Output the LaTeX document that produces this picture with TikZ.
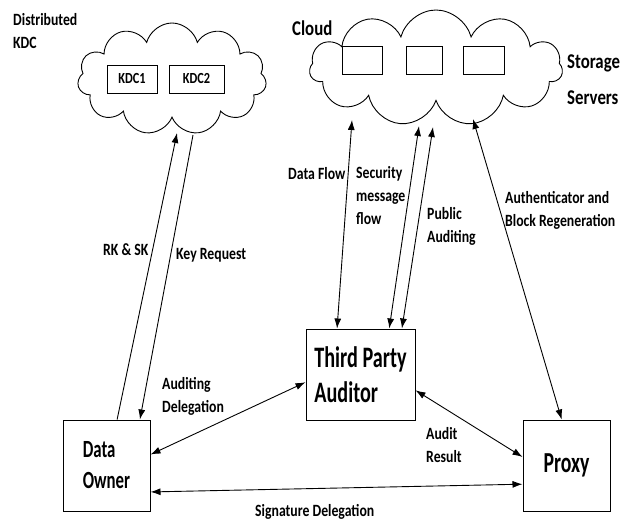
\documentclass[tikz,border=0pt]{standalone}
\usepackage{fontspec}
\setmainfont{Carlito}[FakeStretch=0.8]
\newfontfamily\tallfont{Carlito}[FakeStretch=0.68]
\usetikzlibrary{shapes.symbols,arrows.meta}

\begin{document}
\begin{tikzpicture}[x=1pt,y=-1pt,
      every node/.style={font=\bfseries},
      box/.style={draw,line width=1pt,inner sep=0pt,align=left},
      srvbox/.style={draw,line width=0.9pt,minimum height=28pt,inner sep=0pt},
      puff/.style={cloud,draw,cloud puffs=11,cloud ignores aspect,line width=0.9pt,inner sep=0pt},
      lbl/.style={anchor=north west,inner sep=0pt,align=left,font=\bfseries\fontsize{17.2}{23}\selectfont},
      link/.style={line width=0.9pt,{Latex[length=10pt,width=7pt]}-{Latex[length=10pt,width=7pt]}},
      oneway/.style={line width=0.9pt,-{Latex[length=10pt,width=7pt]}}
    ]
    \useasboundingbox (0,0) rectangle (624,522);

    % clouds and servers
    \node[puff,minimum width=189pt,minimum height=112pt] (kdccloud) at (172,79) {};
    \node[puff,minimum width=253pt,minimum height=116pt] (storecloud) at (436,68) {};
    \node[srvbox,minimum width=50pt,font=\bfseries\fontsize{15.4}{18}\selectfont] (kdc1) at (132,79) {KDC1};
    \node[srvbox,minimum width=55pt,font=\bfseries\fontsize{15.4}{18}\selectfont] (kdc2) at (196.5,79) {KDC2};
    \node[srvbox,minimum width=40pt] (srv1) at (362,60) {};
    \node[srvbox,minimum width=36pt] (srv2) at (424,60) {};
    \node[srvbox,minimum width=41pt] (srv3) at (483.5,60) {};

    % entities
    \node[box,minimum width=87pt,minimum height=91pt,font=\tallfont\bfseries\fontsize{24.7}{31}\selectfont] (owner) at (106.5,465.5) {Data\\Owner};
    \node[box,minimum width=109pt,minimum height=91pt,font=\tallfont\bfseries\fontsize{29.7}{35}\selectfont] (tpa) at (360.5,374.5) {Third Party\\Auditor};
    \node[box,minimum width=87pt,minimum height=91pt,font=\tallfont\bfseries\fontsize{29}{32}\selectfont] (proxy) at (566.5,465.5) {Proxy};

    % ends on the cloud outlines
    \coordinate (kr) at (177,133);
    \coordinate (kq) at (193,135);
    \coordinate (sd) at (352,120);
    \coordinate (ss) at (419,126);
    \coordinate (sp) at (433,127);
    \coordinate (sa) at (473,119);

    % connectors
    \draw[oneway] (owner.77) -- (kr);
    \draw[oneway] (kq) -- (owner.54);
    \draw[link] (sd) -- (tpa.117);
    \draw[link] (ss) -- (tpa.58);
    \draw[link] (sp) -- (tpa.48);
    \draw[link] (sa) -- (proxy.96);
    \draw[link] (owner.14) -- (tpa.188);
    \draw[link] (tpa.344) -- (proxy.169);
    \draw[link] (owner.-31) -- (proxy.203);

    % labels
    \node[lbl] (distlbl) at (13,13) {Distributed\\KDC};
    \node[lbl,font=\bfseries\fontsize{21}{36}\selectfont] (cloudlbl) at (292,21) {Cloud};
    \node[lbl,font=\bfseries\fontsize{21}{36}\selectfont] (storelbl) at (567,55) {Storage\\Servers};
    \node[lbl] (flowlbl) at (288,167) {Data Flow};
    \node[lbl] (seclbl) at (356,166) {Security\\message\\flow};
    \node[lbl] (publbl) at (427,207) {Public\\Auditing};
    \node[lbl] (authlbl) at (505,191) {Authenticator and\\Block Regeneration};
    \node[lbl] (rklbl) at (103,243) {RK \& SK};
    \node[lbl] (reqlbl) at (176,248) {Key Request};
    \node[lbl] (dellbl) at (162,377) {Auditing\\Delegation};
    \node[lbl] (reslbl) at (426,427) {Audit\\Result};
    \node[lbl] (siglbl) at (255,504) {Signature Delegation};
\end{tikzpicture}
\end{document}
